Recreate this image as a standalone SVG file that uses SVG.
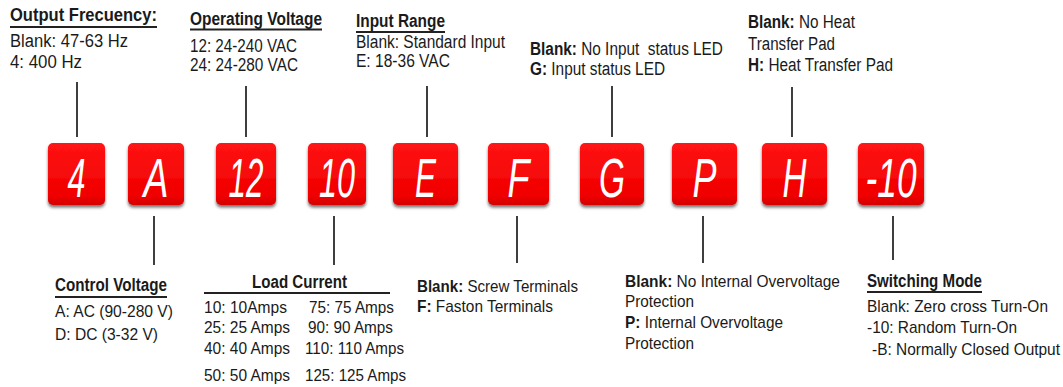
<svg xmlns="http://www.w3.org/2000/svg" width="1063" height="387" viewBox="0 0 1063 387">
<style>
  text { font-family: "Liberation Sans", Arial, sans-serif; fill: #1a1a1a; }
  .t { font-size: 18px; }
  .s { font-size: 17px; }
  .h { font-size: 18px; font-weight: bold; }
  .b { font-weight: bold; }
  .key { font-size: 56px; font-style: italic; fill: #ffffff; text-anchor: middle; }
  .box { fill: url(#red); filter: url(#sh); }
  .conn line { stroke: #2a2a2a; stroke-width: 1.8; }
  .ul { stroke: #222; stroke-width: 1.8; }
</style>
<defs>
  <linearGradient id="red" x1="0" y1="0" x2="0" y2="1">
    <stop offset="0" stop-color="#ff1414"/>
    <stop offset="0.85" stop-color="#f00000"/>
    <stop offset="1" stop-color="#d40000"/>
  </linearGradient>
  <filter id="sh" x="-20%" y="-20%" width="140%" height="150%">
    <feDropShadow dx="0" dy="2.5" stdDeviation="1.5" flood-color="#000" flood-opacity="0.55"/>
  </filter>
</defs>
<rect width="1063" height="387" fill="#ffffff"/>

<g id="connectors" class="conn">
  <line x1="77" y1="82" x2="77" y2="137"/>
  <line x1="246" y1="86" x2="246" y2="137"/>
  <line x1="427" y1="86" x2="427" y2="137"/>
  <line x1="612" y1="86" x2="612" y2="137"/>
  <line x1="792" y1="87" x2="792" y2="137"/>
  <line x1="154" y1="216" x2="154" y2="265"/>
  <line x1="334" y1="216" x2="334" y2="265"/>
  <line x1="517" y1="216" x2="517" y2="263"/>
  <line x1="703" y1="216" x2="703" y2="263"/>
  <line x1="893" y1="216" x2="893" y2="260"/>
</g>

<g id="box-4"><rect class="box" x="48" y="143" width="57" height="62" rx="5"/><text class="key" x="76.5" y="197" textLength="18" lengthAdjust="spacingAndGlyphs">4</text></g>
<g id="box-A"><rect class="box" x="128" y="143" width="56" height="62" rx="5"/><text class="key" x="156" y="197" textLength="25" lengthAdjust="spacingAndGlyphs">A</text></g>
<g id="box-12"><rect class="box" x="216" y="143" width="60" height="62" rx="5"/><text class="key" x="246" y="197" textLength="35" lengthAdjust="spacingAndGlyphs">12</text></g>
<g id="box-10"><rect class="box" x="308" y="143" width="58" height="62" rx="5"/><text class="key" x="337" y="197" textLength="36" lengthAdjust="spacingAndGlyphs">10</text></g>
<g id="box-E"><rect class="box" x="393" y="143" width="65" height="62" rx="5"/><text class="key" x="425.5" y="197" textLength="21" lengthAdjust="spacingAndGlyphs">E</text></g>
<g id="box-F"><rect class="box" x="488" y="143" width="61" height="62" rx="5"/><text class="key" x="518.5" y="197" textLength="22" lengthAdjust="spacingAndGlyphs">F</text></g>
<g id="box-G"><rect class="box" x="580" y="143" width="64" height="62" rx="5"/><text class="key" x="612" y="197" textLength="26" lengthAdjust="spacingAndGlyphs">G</text></g>
<g id="box-P"><rect class="box" x="672" y="143" width="65" height="62" rx="5"/><text class="key" x="704.5" y="197" textLength="24" lengthAdjust="spacingAndGlyphs">P</text></g>
<g id="box-H"><rect class="box" x="762" y="143" width="65" height="62" rx="5"/><text class="key" x="794.5" y="197" textLength="24" lengthAdjust="spacingAndGlyphs">H</text></g>
<g id="box-m10"><rect class="box" x="858" y="143" width="66" height="62" rx="5"/><text class="key" x="891" y="197" textLength="51" lengthAdjust="spacingAndGlyphs">-10</text></g>

<g id="label-output-frequency">
  <text class="h" transform="translate(10 21) scale(0.87 1)" textLength="169" lengthAdjust="spacingAndGlyphs">Output Frecuency:</text>
  <line class="ul" x1="10" y1="27" x2="157" y2="27"/>
  <text class="t" style="font-size:19px" transform="translate(10 47) scale(0.87 1)" textLength="135.6" lengthAdjust="spacingAndGlyphs">Blank: 47-63 Hz</text>
  <text class="t" style="font-size:19px" transform="translate(10 68) scale(0.87 1)" textLength="82.8" lengthAdjust="spacingAndGlyphs">4: 400 Hz</text>
</g>

<g id="label-operating-voltage">
  <text class="h" transform="translate(190 25) scale(0.87 1)" textLength="151.7" lengthAdjust="spacingAndGlyphs">Operating Voltage</text>
  <line class="ul" x1="190" y1="29.5" x2="322" y2="29.5"/>
  <text class="t" transform="translate(190 52) scale(0.87 1)" textLength="123" lengthAdjust="spacingAndGlyphs">12: 24-240 VAC</text>
  <text class="t" transform="translate(190 71) scale(0.87 1)" textLength="124.1" lengthAdjust="spacingAndGlyphs">24: 24-280 VAC</text>
</g>

<g id="label-input-range">
  <text class="h" transform="translate(356 27) scale(0.87 1)" textLength="102.3" lengthAdjust="spacingAndGlyphs">Input Range</text>
  <line class="ul" x1="356" y1="32" x2="445" y2="32"/>
  <text class="t" transform="translate(356 48) scale(0.87 1)" textLength="171.3" lengthAdjust="spacingAndGlyphs">Blank: Standard Input</text>
  <text class="t" transform="translate(356 67) scale(0.87 1)" textLength="108" lengthAdjust="spacingAndGlyphs">E: 18-36 VAC</text>
</g>

<g id="label-status-led">
  <text class="t" transform="translate(530 55) scale(0.87 1)" style="white-space:pre" textLength="221.8" lengthAdjust="spacingAndGlyphs"><tspan class="b">Blank:</tspan> No Input  status LED</text>
  <text class="t" transform="translate(530 75) scale(0.87 1)" textLength="155.2" lengthAdjust="spacingAndGlyphs"><tspan class="b">G:</tspan> Input status LED</text>
</g>

<g id="label-heat-pad">
  <text class="t" transform="translate(748 28) scale(0.87 1)" textLength="123" lengthAdjust="spacingAndGlyphs"><tspan class="b">Blank:</tspan> No Heat</text>
  <text class="t" transform="translate(748 50) scale(0.87 1)" textLength="100" lengthAdjust="spacingAndGlyphs">Transfer Pad</text>
  <text class="t" transform="translate(748 71) scale(0.87 1)" textLength="166.7" lengthAdjust="spacingAndGlyphs"><tspan class="b">H:</tspan> Heat Transfer Pad</text>
</g>

<g id="label-control-voltage">
  <text class="h" transform="translate(55 291) scale(0.87 1)" textLength="128.7" lengthAdjust="spacingAndGlyphs">Control Voltage</text>
  <line class="ul" x1="55" y1="297" x2="167" y2="297"/>
  <text class="s" transform="translate(55 317) scale(0.87 1)" textLength="135.6" lengthAdjust="spacingAndGlyphs">A: AC (90-280 V)</text>
  <text class="s" transform="translate(55 340) scale(0.87 1)" textLength="118.4" lengthAdjust="spacingAndGlyphs">D: DC (3-32 V)</text>
</g>

<g id="label-load-current">
  <text class="h" transform="translate(252 288) scale(0.87 1)" textLength="109.2" lengthAdjust="spacingAndGlyphs">Load Current</text>
  <line class="ul" x1="204" y1="293" x2="390" y2="293"/>
  <text class="s" transform="translate(204 313) scale(0.87 1)" textLength="95.4" lengthAdjust="spacingAndGlyphs">10: 10Amps</text>
  <text class="s" transform="translate(309 313) scale(0.87 1)" textLength="97.7" lengthAdjust="spacingAndGlyphs">75: 75 Amps</text>
  <text class="s" transform="translate(204 333) scale(0.87 1)" textLength="98.9" lengthAdjust="spacingAndGlyphs">25: 25 Amps</text>
  <text class="s" transform="translate(308 333) scale(0.87 1)" textLength="97.7" lengthAdjust="spacingAndGlyphs">90: 90 Amps</text>
  <text class="s" transform="translate(204 354) scale(0.87 1)" textLength="98.9" lengthAdjust="spacingAndGlyphs">40: 40 Amps</text>
  <text class="s" transform="translate(305 354) scale(0.87 1)" textLength="113.8" lengthAdjust="spacingAndGlyphs">110: 110 Amps</text>
  <text class="s" transform="translate(204 381) scale(0.87 1)" textLength="98.9" lengthAdjust="spacingAndGlyphs">50: 50 Amps</text>
  <text class="s" transform="translate(305 381) scale(0.87 1)" textLength="116.1" lengthAdjust="spacingAndGlyphs">125: 125 Amps</text>
</g>

<g id="label-terminals">
  <text class="s" transform="translate(417 292) scale(0.87 1)" textLength="185.1" lengthAdjust="spacingAndGlyphs"><tspan class="b">Blank:</tspan> Screw Terminals</text>
  <text class="s" transform="translate(417 312) scale(0.87 1)" textLength="156.3" lengthAdjust="spacingAndGlyphs"><tspan class="b">F:</tspan> Faston Terminals</text>
</g>

<g id="label-overvoltage">
  <text class="s" transform="translate(625 287) scale(0.87 1)" textLength="247.1" lengthAdjust="spacingAndGlyphs"><tspan class="b">Blank:</tspan> No Internal Overvoltage</text>
  <text class="s" transform="translate(625 307) scale(0.87 1)" textLength="79.3" lengthAdjust="spacingAndGlyphs">Protection</text>
  <text class="s" transform="translate(625 328) scale(0.87 1)" textLength="181.6" lengthAdjust="spacingAndGlyphs"><tspan class="b">P:</tspan> Internal Overvoltage</text>
  <text class="s" transform="translate(625 349) scale(0.87 1)" textLength="79.3" lengthAdjust="spacingAndGlyphs">Protection</text>
</g>

<g id="label-switching-mode">
  <text class="h" transform="translate(867 287) scale(0.87 1)" textLength="132.2" lengthAdjust="spacingAndGlyphs">Switching Mode</text>
  <line class="ul" x1="867" y1="292" x2="982" y2="292"/>
  <text class="s" transform="translate(867 312) scale(0.87 1)" textLength="208" lengthAdjust="spacingAndGlyphs">Blank: Zero cross Turn-On</text>
  <text class="s" transform="translate(867 333) scale(0.87 1)" textLength="172.4" lengthAdjust="spacingAndGlyphs">-10: Random Turn-On</text>
  <text class="s" transform="translate(872 355) scale(0.87 1)" textLength="216.1" lengthAdjust="spacingAndGlyphs">-B: Normally Closed Output</text>
</g>
</svg>
